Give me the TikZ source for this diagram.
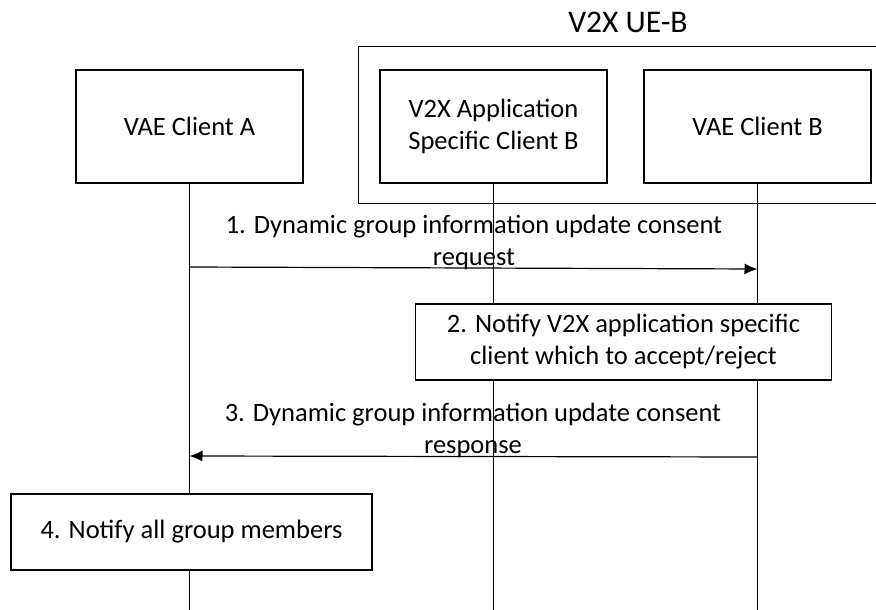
\documentclass[tikz,border=0pt]{standalone}
\usepackage{fontspec}
\setmainfont{Carlito}
\usetikzlibrary{arrows.meta}
\newcommand{\msgfont}{\fontsize{26.5}{32}\selectfont}
\newcommand{\titlefont}{\fontsize{31.5}{36}\selectfont}
\tikzset{
  entity/.style={draw,line width=1.2pt,minimum width=227pt,minimum height=113pt,align=center,font=\msgfont},
  actbox/.style={draw,fill=white,line width=1.2pt,align=center,font=\msgfont},
  lifeline/.style={line width=1.2pt},
  msg/.style={line width=1.2pt,-{Latex[length=13pt,width=11pt]}},
  msglabel/.style={align=center,font=\msgfont}
}
\begin{document}
\begin{tikzpicture}[x=1pt,y=-1pt,line cap=butt,line join=miter]
  \useasboundingbox (0,0) rectangle (876,610);
  % UE-B container
  \node[draw,line width=1.2pt,minimum width=519pt,minimum height=157pt,anchor=north west] (ueB) at (358,46) {};
  \node[font=\titlefont] (ueBtitle) at (628,22) {V2X UE-B};
  % entities
  \node[entity] (vaeA) at (189.5,126.5) {VAE Client A};
  \node[entity] (appB) at (493.5,126.5) {V2X Application\\Specific Client B};
  \node[entity] (vaeB) at (757.5,126.5) {VAE Client B};
  % lifelines
  \coordinate (endA) at (189.5,610);
  \coordinate (endApp) at (493.5,610);
  \coordinate (endB) at (757.5,610);
  \draw[lifeline] (vaeA.south) -- (endA);
  \draw[lifeline] (appB.south) -- (endApp);
  \draw[lifeline] (vaeB.south) -- (endB);
  % step 1
  \coordinate (m1a) at (189.5,267);
  \coordinate (m1b) at (757.5,269);
  \draw[msg] (m1a) -- (m1b);
  \node[msglabel] (m1lbl) at (474,242) {1. Dynamic group information update consent\\request};
  % step 2
  \node[actbox,minimum width=416pt,minimum height=76pt] (notifyApp) at (623.5,342) {2. Notify V2X application specific\\client which to accept/reject};
  % step 3
  \coordinate (m3b) at (757.5,457);
  \coordinate (m3a) at (189.5,456);
  \draw[msg] (m3b) -- (m3a);
  \node[msglabel] (m3lbl) at (473,430) {3. Dynamic group information update consent\\response};
  % step 4
  \node[actbox,minimum width=361pt,minimum height=76pt] (notifyAll) at (191.5,532) {4. Notify all group members};
\end{tikzpicture}
\end{document}
